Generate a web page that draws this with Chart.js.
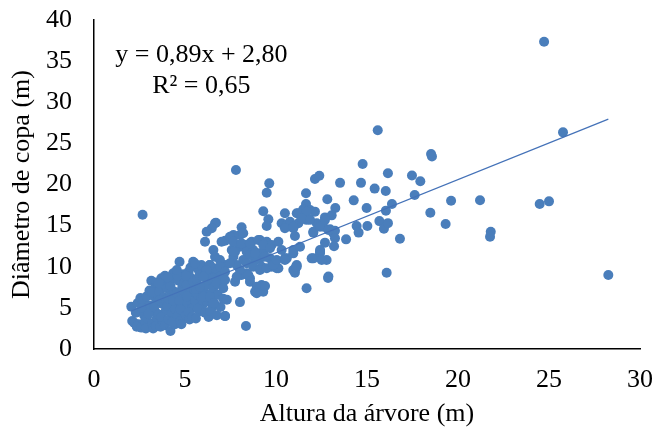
<!DOCTYPE html>
<html lang="pt">
<head>
<meta charset="utf-8">
<title>Altura x Diâmetro de copa</title>
<script src="https://cdn.jsdelivr.net/npm/chart.js@4.4.1/dist/chart.umd.min.js"></script>
<style>
  html, body { margin: 0; padding: 0; background: #fff; }
  #wrap { width: 657px; height: 434px; }
</style>
</head>
<body>
<div id="wrap"><canvas id="grafico"></canvas></div>
<script>
// [altura da árvore (m), diâmetro de copa (m)]
const arvoresPequenas = [
  [2.05, 5.15], [2.1, 3.4], [2.2, 3.2], [2.3, 4.4], [2.4, 5.6], [2.45, 3.0], [2.35, 2.7],
  [2.55, 6.2], [2.6, 2.6], [2.7, 5.8], [2.75, 4.1], [2.8, 3.3], [2.85, 2.5], [2.9, 6.4], [2.95, 4.9], [2.65, 5.0], [2.9, 3.8],
  [3.05, 7.1], [3.1, 5.3], [3.15, 8.3], [3.2, 3.1], [3.25, 2.5], [3.3, 6.4], [3.35, 4.6], [3.4, 7.6], [3.45, 3.7], [3.5, 5.8],
  [3.0, 4.3], [3.2, 6.9], [3.4, 2.8], [3.3, 5.1], [3.45, 8.1],
  [3.55, 4.2], [3.6, 7.0], [3.65, 2.7], [3.7, 8.6], [3.75, 5.5], [3.8, 3.3], [3.85, 6.3], [3.9, 8.9], [3.95, 4.7], [4.0, 7.4],
  [3.6, 5.9], [3.7, 3.9], [3.8, 7.9], [3.9, 2.9], [3.95, 6.0], [3.55, 8.0],
  [4.05, 5.2], [4.1, 3.6], [4.15, 8.1], [4.2, 2.2], [4.25, 6.6], [4.3, 4.4], [4.35, 9.2], [4.4, 7.0], [4.45, 3.0], [4.5, 5.7],
  [4.1, 6.1], [4.2, 7.7], [4.3, 3.3], [4.4, 8.6], [4.45, 4.9], [4.05, 8.7], [4.35, 5.9],
  [4.55, 6.8], [4.6, 4.0], [4.65, 8.3], [4.7, 10.6], [4.75, 3.4], [4.8, 5.4], [4.85, 7.5], [4.9, 9.1], [4.95, 4.6], [5.0, 6.3],
  [4.6, 8.9], [4.7, 5.9], [4.8, 3.0], [4.9, 7.1], [4.55, 9.6], [4.75, 4.8], [4.95, 8.0],
  [5.05, 4.1], [5.1, 7.8], [5.15, 5.6], [5.2, 9.4], [5.25, 3.6], [5.3, 6.8], [5.35, 8.6], [5.4, 5.0], [5.45, 10.6], [5.5, 7.2],
  [5.1, 6.4], [5.2, 4.5], [5.3, 9.9], [5.4, 3.9], [5.45, 8.2], [5.05, 8.9],
  [5.55, 5.9], [5.6, 3.7], [5.65, 8.4], [5.7, 6.6], [5.75, 9.6], [5.8, 4.6], [5.85, 7.6], [5.9, 10.2], [5.95, 5.3], [6.0, 8.8],
  [5.6, 7.3], [5.7, 4.9], [5.8, 9.0], [5.9, 6.3], [5.55, 10.4],
  [6.05, 7.0], [6.1, 4.4], [6.15, 9.5], [6.2, 5.8], [6.25, 8.2], [6.3, 3.9], [6.35, 10.2], [6.4, 6.6], [6.45, 8.9], [6.5, 5.1],
  [6.1, 7.7], [6.3, 9.0], [6.4, 4.6], [6.2, 6.3],
  [6.55, 7.4], [6.6, 5.6], [6.7, 8.4], [6.75, 4.1], [6.8, 6.6], [6.9, 9.3], [6.95, 5.1], [7.05, 7.8], [7.1, 6.1], [7.2, 4.0],
  [7.3, 6.0], [6.65, 9.8], [7.0, 8.9]
];

const arvoresMedias = [
  [2.67, 16.33], [6.7, 15.36], [6.65, 15.28], [6.47, 14.67], [6.19, 14.26], [6.1, 13.05],
  [7.8, 21.76], [9.63, 20.14], [9.49, 19.0], [9.3, 16.74], [9.58, 15.76], [9.49, 14.95],
  [8.11, 14.8], [8.02, 13.86], [7.66, 13.86], [7.47, 13.46], [7.2, 13.17], [7.01, 13.05],
  [8.66, 13.05], [9.12, 13.25], [9.49, 13.05], [9.76, 12.64], [10.13, 13.05], [8.3, 12.64],
  [8.02, 12.44], [7.75, 11.83], [7.57, 12.04], [8.39, 11.83], [8.75, 12.04], [9.03, 11.63],
  [9.3, 11.83], [9.67, 11.02], [9.12, 11.02], [8.85, 10.82], [9.85, 10.42], [9.21, 10.0],
  [9.76, 10.0], [10.13, 9.81], [10.49, 11.02], [7.2, 10.21], [7.1, 9.0], [7.66, 11.22],
  [7.84, 10.21], [8.2, 10.82], [6.92, 8.79], [8.39, 9.2], [8.57, 8.6], [8.11, 9.0],
  [8.2, 14.07], [7.47, 13.65], [7.66, 13.05], [8.11, 12.84], [8.57, 12.84], [9.03, 13.25],
  [9.3, 12.64], [9.67, 12.24], [10.31, 12.04], [6.56, 12.04], [6.65, 11.22], [6.92, 10.82],
  [7.66, 11.83], [8.57, 11.43], [8.85, 11.63], [9.4, 11.22], [10.59, 11.02], [6.37, 10.21],
  [6.19, 9.6], [6.01, 8.79], [6.92, 10.0], [7.2, 9.4], [7.47, 10.42], [8.02, 9.6],
  [8.39, 10.42], [8.75, 10.0], [9.12, 9.6], [9.49, 9.81], [10.04, 9.81], [6.56, 8.6],
  [6.74, 7.98], [7.2, 8.39], [7.1, 7.38], [7.75, 8.18], [7.84, 8.79], [8.48, 9.0],
  [8.57, 8.18], [8.94, 7.57], [9.21, 7.78], [9.3, 6.97], [8.85, 6.97], [8.02, 5.7],
  [5.82, 7.57], [6.01, 6.36], [6.37, 6.36], [6.56, 5.56], [9.4, 7.66], [8.94, 6.77],
  [7.2, 4.01], [8.35, 2.8], [9.85, 10.21], [10.04, 10.82], [10.49, 10.82],
  [10.49, 16.5], [10.31, 15.28], [10.59, 15.08], [10.77, 15.48], [10.95, 14.67], [10.49, 14.67]
];

const arvoresGrandes = [
  [24.73, 37.36], [15.59, 26.59], [25.77, 26.34], [18.52, 23.7], [18.57, 23.4], [14.76, 22.5],
  [16.15, 21.36], [17.47, 21.1], [17.93, 20.39], [12.14, 20.67], [12.38, 21.07], [13.52, 20.2],
  [14.67, 20.2], [15.42, 19.5], [16.03, 19.2], [12.82, 18.2], [14.27, 18.07], [17.62, 18.72],
  [19.62, 18.03], [21.21, 18.08], [24.49, 17.63], [25.0, 17.95], [13.26, 17.14], [14.98, 17.14],
  [16.37, 17.63], [16.04, 16.82], [18.48, 16.57], [13.06, 16.25], [12.69, 16.0], [15.68, 15.55],
  [19.32, 15.2], [21.8, 14.26], [21.76, 13.65], [16.81, 13.41], [15.93, 14.63], [16.15, 15.3],
  [15.02, 14.95], [14.43, 14.95], [14.54, 14.15], [13.85, 13.33], [13.15, 14.07], [13.19, 12.5],
  [12.69, 12.93], [12.78, 10.82], [12.86, 8.63], [16.08, 9.28], [28.26, 9.0], [12.42, 11.67],
  [11.65, 18.93], [11.65, 17.63], [11.5, 16.98], [11.14, 16.5], [11.87, 16.9], [12.14, 16.7],
  [11.68, 15.7], [11.23, 15.28], [10.95, 14.87], [12.24, 15.28], [12.6, 14.87], [12.97, 14.55],
  [13.24, 14.38], [13.24, 13.46], [11.04, 13.74], [12.05, 14.14], [10.95, 11.63], [12.05, 11.02],
  [12.42, 11.83], [11.14, 10.0], [11.04, 9.28], [12.88, 8.8], [11.23, 16.5], [11.68, 16.7],
  [11.41, 15.9], [11.87, 15.7], [12.05, 14.26], [12.42, 14.87], [12.69, 15.68], [12.88, 14.47],
  [11.14, 10.21], [11.04, 9.6], [12.42, 12.04], [11.96, 11.02], [12.51, 10.82], [10.95, 12.04],
  [11.32, 12.44], [11.68, 7.38], [10.95, 9.6], [11.1, 10.0]
];

// linha de tendência linear
const inclinacao = 0.89;
const intercepto = 2.80;
const r2 = 0.65;

const xTicks = [0, 5, 10, 15, 20, 25, 30];
const yTicks = [0, 5, 10, 15, 20, 25, 30, 35, 40];

const equacaoTexto = [
  'y = ' + inclinacao.toFixed(2).replace('.', ',') + 'x + ' + intercepto.toFixed(2).replace('.', ','),
  'R² = ' + r2.toFixed(2).replace('.', ',')
];
const equacaoPos = { x: 5.9, y: [35.7, 32.0] };

const pontos = arvoresPequenas.concat(arvoresMedias, arvoresGrandes).map(([x, y]) => ({ x, y }));

const xs = pontos.map(p => p.x);
const xMin = Math.min(...xs);
const xMax = Math.max(...xs);
const tendencia = [
  { x: xMin, y: inclinacao * xMin + intercepto },
  { x: xMax, y: inclinacao * xMax + intercepto }
];

const azul = '#4a7ebb';
const fonte = 'Liberation Serif, Times New Roman, serif';

const equacaoPlugin = {
  id: 'equacao',
  afterDatasetsDraw(chart) {
    const ctx = chart.ctx;
    const sx = chart.scales.x;
    const sy = chart.scales.y;
    ctx.save();
    ctx.font = '26px ' + fonte;
    ctx.fillStyle = '#000';
    ctx.textAlign = 'center';
    ctx.textBaseline = 'middle';
    equacaoTexto.forEach((t, i) => {
      ctx.fillText(t, sx.getPixelForValue(equacaoPos.x), sy.getPixelForValue(equacaoPos.y[i]));
    });
    ctx.restore();
  }
};

new Chart(document.getElementById('grafico'), {
  type: 'scatter',
  data: {
    datasets: [
      {
        type: 'line',
        data: tendencia,
        borderColor: '#4472b8',
        borderWidth: 1.25,
        pointRadius: 0,
        fill: false
      },
      {
        data: pontos,
        backgroundColor: azul,
        borderWidth: 0,
        pointRadius: 5,
        pointHoverRadius: 5
      }
    ]
  },
  options: {
    responsive: true,
    maintainAspectRatio: false,
    animation: false,
    events: [],
    layout: { padding: { top: 20, right: 17, bottom: 0, left: 0 } },
    plugins: { legend: { display: false }, tooltip: { enabled: false } },
    scales: {
      x: {
        type: 'linear',
        min: 0,
        max: 30,
        afterBuildTicks: s => { s.ticks = xTicks.map(v => ({ value: v })); },
        // altura fixa e sem folga extra ao lado do rótulo "30"
        afterFit: s => { s.height = 85; s.paddingLeft = 0; s.paddingRight = 0; },
        grid: { display: false, drawTicks: false },
        border: { display: true, color: '#000', width: 1.5 },
        ticks: { color: '#000', font: { family: fonte, size: 26 }, padding: 16, maxRotation: 0 },
        title: {
          display: true,
          text: 'Altura da árvore (m)',
          color: '#000',
          font: { family: fonte, size: 26, lineHeight: 1.5 },
          padding: 0
        }
      },
      y: {
        type: 'linear',
        min: 0,
        max: 40,
        afterBuildTicks: s => { s.ticks = yTicks.map(v => ({ value: v })); },
        afterFit: s => { s.width = 94; s.paddingTop = 0; s.paddingBottom = 0; },
        grid: { display: false, drawTicks: false },
        border: { display: true, color: '#000', width: 1.5 },
        ticks: { color: '#000', font: { family: fonte, size: 26 }, padding: 22 },
        title: {
          display: true,
          text: 'Diâmetro de copa (m)',
          color: '#000',
          font: { family: fonte, size: 26, lineHeight: 1.7 },
          padding: 0
        }
      }
    }
  },
  plugins: [equacaoPlugin]
});
</script>
</body>
</html>
